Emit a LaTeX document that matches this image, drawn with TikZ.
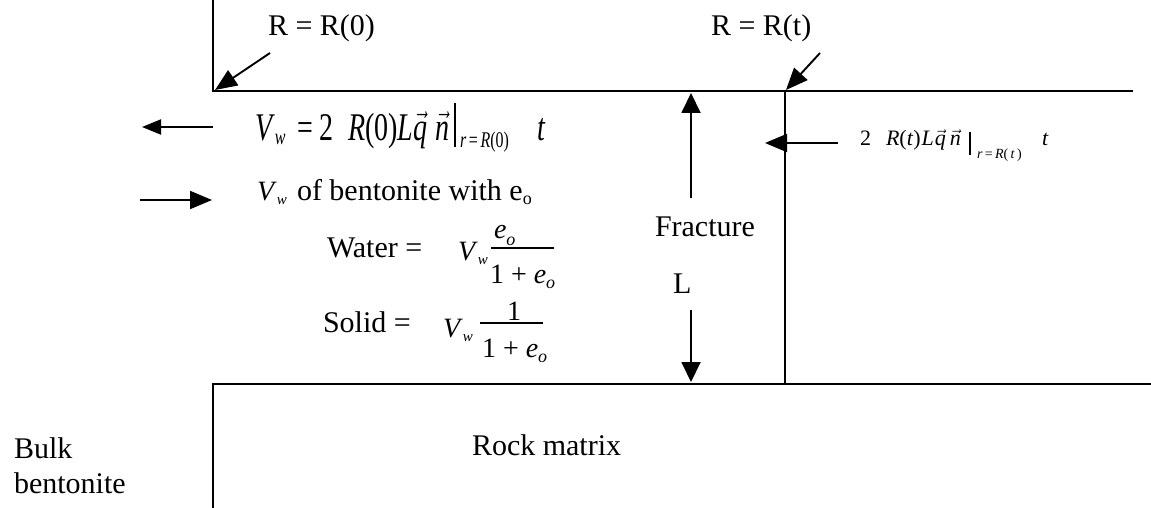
\documentclass[tikz,border=0pt]{standalone}
\usepackage{fontspec}
\setmainfont{Liberation Serif}
\usepackage{graphicx}
\usetikzlibrary{arrows.meta}
\newcommand{\tall}[1]{\scalebox{1}[1.4]{#1}}
\newcommand{\vc}[1]{$\vec{\textit{#1}}$}
\newcommand{\fs}[1]{\fontsize{#1}{#1}\selectfont}
\tikzset{
  wall/.style={line width=2.3pt},
  ptr/.style={line width=1.9pt, -{Triangle[length=22pt,width=18pt]}},
  fbar/.style={line width=1.8pt},
  txt/.style={inner sep=0pt, outer sep=0pt, anchor=base west, font=\fs{30}},
  mth/.style={inner sep=0pt, outer sep=0pt, anchor=base west, font=\fs{28}},
  sml/.style={inner sep=0pt, outer sep=0pt, anchor=base west, font=\fs{22}},
}
\begin{document}
\begin{tikzpicture}[x=1pt,y=-1pt]
\useasboundingbox (0,0) rectangle (1151,508);
% walls
\draw[wall] (213,0) -- (213,91) -- (1133,91);
\draw[wall] (785,91) -- (785,384);
\draw[wall] (213,508) -- (213,384) -- (1151,384);
% top labels
\node[txt] (r0) at (268,36) {R = R(0)};
\node[txt] (rt) at (711,36) {R = R(t)};
\coordinate (a1s) at (270,53); \coordinate (a1e) at (215,90);
\coordinate (a2s) at (820,53); \coordinate (a2e) at (786,90);
\draw[ptr] (a1s) -- (a1e);
\draw[ptr] (a2s) -- (a2e);
% formula 1
\coordinate (a3s) at (213,127); \coordinate (a3e) at (142,127);
\draw[ptr,-{Triangle[length=19pt,width=15pt]}] (a3s) -- (a3e);
\node[mth] (f1v) at (255,140) {\tall{\textit{V}\raisebox{-3pt}{\fs{16}\textit{w}}}};
\node[mth] (f1eq) at (297,140) {\tall{= 2}};
\node[mth] (f1r) at (348,140) {\tall{\textit{R}(0)\textit{L}\vc{q}\hspace{8pt}\vc{n}}};
\draw[fbar] (455,103) -- (455,147);
\node[mth] (f1sub) at (460,148) {\tall{\fs{16}\textit{r}\,=\,\textit{R}(0)}};
\node[mth] (f1t) at (537,140) {\tall{\textit{t}}};
% formula 2
\coordinate (a5s) at (838,143); \coordinate (a5e) at (765,143);
\draw[ptr] (a5s) -- (a5e);
\node[sml] (f2two) at (860,146) {2};
\node[sml] (f2r) at (886,146) {\textit{R}(\textit{t})\hspace{1pt}\textit{L}\hspace{1pt}\vc{q}\hspace{4pt}\vc{n}};
\draw[fbar] (970,132) -- (970,155);
\node[sml] (f2sub) at (977,158) {\fs{14}\textit{r}\,=\,\textit{R}(\,\textit{t}\,)};
\node[sml] (f2t) at (1042,146) {\textit{t}};
% row 2
\coordinate (a4s) at (140,200); \coordinate (a4e) at (212,200);
\draw[ptr] (a4s) -- (a4e);
\node[mth] (r2v) at (257,200) {\textit{V}\raisebox{-4pt}{\fs{15}\textit{w}}};
\node[txt] (r2t) at (297,200) {of bentonite with e\raisebox{-4pt}{\fs{18}o}};
% water
\node[txt] (wl) at (327,257) {Water =};
\node[mth] (wv) at (458,260) {\textit{V}\raisebox{-4pt}{\fs{15}\textit{w}}};
\node[mth] (wn) at (494,238) {\textit{e}\raisebox{-7pt}{\fs{18}\textit{o}}};
\draw[fbar] (491,248) -- (554,248);
\node[mth] (wd) at (490,283) {1 + \textit{e}\raisebox{-5pt}{\fs{18}\textit{o}}};
% solid
\node[txt] (sl) at (323,332) {Solid =};
\node[mth] (sv) at (443,337) {\textit{V}\raisebox{-4pt}{\fs{15}\textit{w}}};
\node[mth,anchor=base] (sn) at (514,320) {1};
\draw[fbar] (480,323) -- (543,323);
\node[mth] (sd) at (482,357) {1 + \textit{e}\raisebox{-5pt}{\fs{18}\textit{o}}};
% fracture
\node[txt] (fr) at (655,236) {Fracture};
\node[txt] (fl) at (673,293) {L};
\coordinate (a6s) at (691,198); \coordinate (a6e) at (691,93);
\coordinate (a7s) at (691,310); \coordinate (a7e) at (691,382);
\draw[ptr,-{Triangle[length=20pt,width=19pt]}] (a6s) -- (a6e);
\draw[ptr,-{Triangle[length=20pt,width=19pt]}] (a7s) -- (a7e);
% bottom labels
\node[txt] (rm) at (472,455) {Rock matrix};
\node[txt] (bk1) at (14,458) {Bulk};
\node[txt] (bk2) at (14,493) {bentonite};
\end{tikzpicture}
\end{document}
